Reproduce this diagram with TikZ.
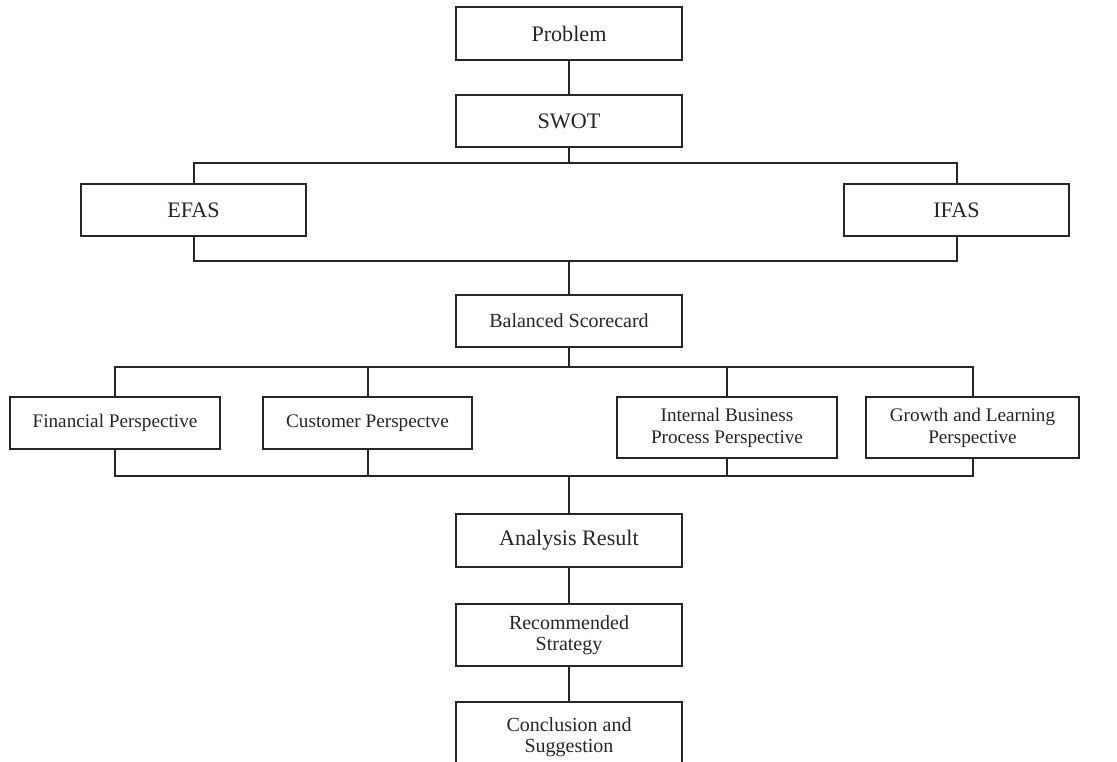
\documentclass[tikz,border=0pt]{standalone}
\usepackage{fontspec}
\setmainfont{Liberation Serif}
\begin{document}
\begin{tikzpicture}[x=0.75pt,y=-0.75pt,
  box/.style={draw=black!85, line width=1.5pt, rectangle, inner sep=0pt, align=center, text=black!85, fill=white},
  big/.style={font=\fontsize{16.6pt}{19pt}\selectfont},
  mid/.style={font=\fontsize{15pt}{16pt}\selectfont},
  small/.style={font=\fontsize{14.4pt}{16.5pt}\selectfont},
  link/.style={draw=black!85, line width=1.5pt}]
\useasboundingbox (0,0) rectangle (1117,762);
\clip (0,0) rectangle (1117,762);
% boxes
\node[box,big,minimum width=226*0.75pt,minimum height=53*0.75pt] (prob) at (569,33.5) {Problem};
\node[box,big,minimum width=226*0.75pt,minimum height=52*0.75pt] (swot) at (569,121) {SWOT};
\node[box,big,minimum width=225*0.75pt,minimum height=52*0.75pt] (efas) at (193.5,210) {EFAS};
\node[box,big,minimum width=225*0.75pt,minimum height=52*0.75pt] (ifas) at (956.5,210) {IFAS};
\node[box,mid,minimum width=226*0.75pt,minimum height=52*0.75pt] (bsc) at (569,321) {Balanced Scorecard};
\node[box,small,minimum width=210*0.75pt,minimum height=52*0.75pt] (fin) at (115,423) {Financial Perspective};
\node[box,small,minimum width=209*0.75pt,minimum height=52*0.75pt] (cus) at (367.5,423) {Customer Perspectve};
\node[box,small,minimum width=220*0.75pt,minimum height=61*0.75pt] (ibp) at (727,427.5) {Internal Business\\Process Perspective};
\node[box,small,minimum width=213*0.75pt,minimum height=61*0.75pt] (gro) at (972.5,427.5) {Growth and Learning\\Perspective};
\node[box,big,minimum width=226*0.75pt,minimum height=53*0.75pt] (ana) at (569,540.5) {Analysis Result};
\node[box,mid,minimum width=226*0.75pt,minimum height=62*0.75pt] (rec) at (569,635) {Recommended\\Strategy};
\node[box,mid,minimum width=226*0.75pt,minimum height=70*0.75pt] (con) at (569,737) {Conclusion and\\Suggestion};
% junction points
\coordinate (t1) at (569,163);
\coordinate (t2) at (569,261);
\coordinate (t3) at (569,367);
\coordinate (t4) at (569,476);
% connectors
\draw[link] (prob.south) -- (swot.north);
\draw[link] (swot.south) -- (t1);
\draw[link] (efas.north) |- (t1) -| (ifas.north);
\draw[link] (efas.south) |- (t2) -| (ifas.south);
\draw[link] (t2) -- (bsc.north);
\draw[link] (bsc.south) -- (t3);
\draw[link] (fin.north) |- (t3) -| (gro.north);
\draw[link] (cus.north) -- (cus.north |- t3);
\draw[link] (ibp.north) -- (ibp.north |- t3);
\draw[link] (fin.south) |- (t4) -| (gro.south);
\draw[link] (cus.south) -- (cus.south |- t4);
\draw[link] (ibp.south) -- (ibp.south |- t4);
\draw[link] (t4) -- (ana.north);
\draw[link] (ana.south) -- (rec.north);
\draw[link] (rec.south) -- (con.north);
\end{tikzpicture}
\end{document}
